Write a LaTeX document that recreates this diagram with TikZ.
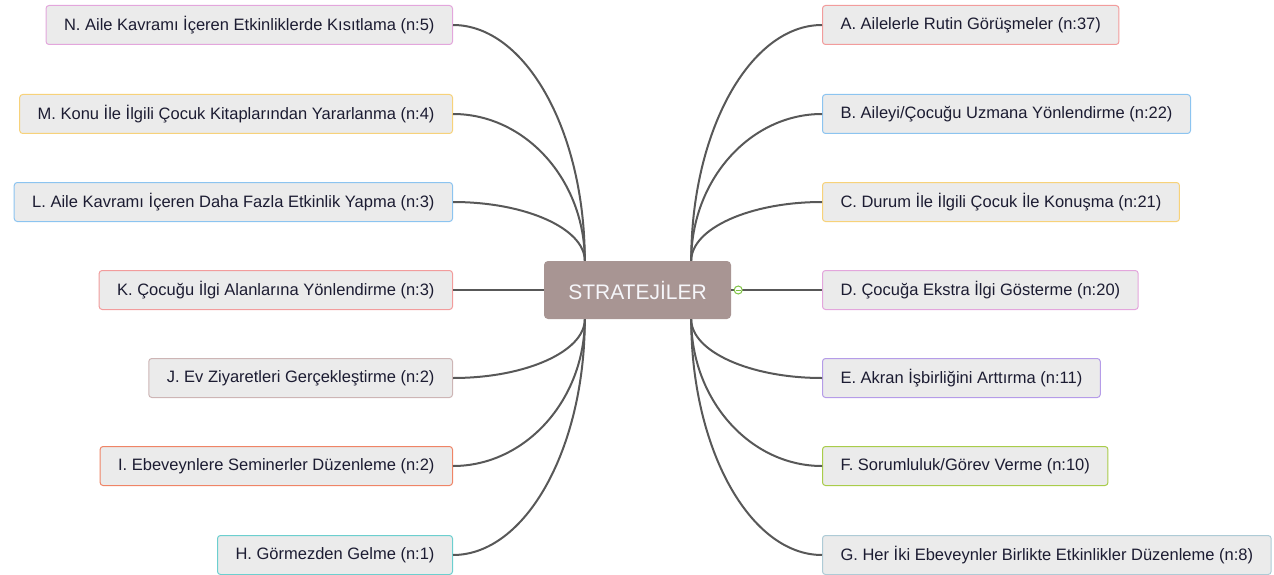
\documentclass[tikz,border=0pt]{standalone}
\usepackage{fontspec}
\setmainfont{Liberation Sans}
\usetikzlibrary{calc}

\definecolor{leaffill}{RGB}{235,235,235}
\definecolor{leaftext}{RGB}{28,28,50}
\definecolor{rootfill}{RGB}{168,149,147}
\definecolor{wiregray}{RGB}{88,88,88}
\definecolor{foldgreen}{RGB}{125,194,66}
\definecolor{cRed}{RGB}{242,156,156}
\definecolor{cBlue}{RGB}{140,196,240}
\definecolor{cYellow}{RGB}{247,210,122}
\definecolor{cPink}{RGB}{227,166,220}
\definecolor{cPurple}{RGB}{181,156,232}
\definecolor{cLime}{RGB}{169,204,74}
\definecolor{cSteel}{RGB}{174,203,214}
\definecolor{cTeal}{RGB}{108,207,207}
\definecolor{cCoral}{RGB}{239,132,102}
\definecolor{cTaupe}{RGB}{205,181,181}

\tikzset{
  leaf/.style={draw=#1, fill=leaffill, rounded corners=3pt, line width=1pt,
    minimum height=39pt, inner xsep=18pt, text=leaftext,
    font=\fontsize{16.5}{18}\selectfont},
  root/.style={fill=rootfill, rounded corners=4pt, minimum width=187pt,
    minimum height=58pt, text={rgb,255:red,246;green,246;blue,250},
    font=\fontsize{21}{23}\selectfont},
  wire/.style={draw=wiregray, line width=2pt},
  branch/.style={wire, to path={.. controls ($(\tikztostart)!0.55!(\tikztostart|-\tikztotarget)$) and ($(\tikztotarget)!0.55!(\tikztostart|-\tikztotarget)$) .. (\tikztotarget)}}
}

\begin{document}
\begin{tikzpicture}[x=1pt,y=1pt,yscale=-1,xscale=1]
\useasboundingbox (0,0) rectangle (1274,575);

% Root
\node [root] (strat) at (637.5,290) {STRATEJİLER};

% Right side
\node [leaf=cRed, anchor=west] (A) at (822,25) {A. Ailelerle Rutin Görüşmeler (n:37)};
\node [leaf=cBlue, anchor=west] (B) at (822,114) {B. Aileyi/Çocuğu Uzmana Yönlendirme (n:22)};
\node [leaf=cYellow, anchor=west] (C) at (822,202) {C. Durum İle İlgili Çocuk İle Konuşma (n:21)};
\node [leaf=cPink, anchor=west] (D) at (822,290) {D. Çocuğa Ekstra İlgi Gösterme (n:20)};
\node [leaf=cPurple, anchor=west] (E) at (822,378) {E. Akran İşbirliğini Arttırma (n:11)};
\node [leaf=cLime, anchor=west] (F) at (822,466) {F. Sorumluluk/Görev Verme (n:10)};
\node [leaf=cSteel, anchor=west] (G) at (822,555) {G. Her İki Ebeveynler Birlikte Etkinlikler Düzenleme (n:8)};

% Left side
\node [leaf=cPink, anchor=east] (N) at (453,25) {N. Aile Kavramı İçeren Etkinliklerde Kısıtlama (n:5)};
\node [leaf=cYellow, anchor=east] (M) at (453,114) {M. Konu İle İlgili Çocuk Kitaplarından Yararlanma (n:4)};
\node [leaf=cBlue, anchor=east] (L) at (453,202) {L. Aile Kavramı İçeren Daha Fazla Etkinlik Yapma (n:3)};
\node [leaf=cRed, anchor=east] (K) at (453,290) {K. Çocuğu İlgi Alanlarına Yönlendirme (n:3)};
\node [leaf=cTaupe, anchor=east] (J) at (453,378) {J. Ev Ziyaretleri Gerçekleştirme (n:2)};
\node [leaf=cCoral, anchor=east] (I) at (453,466) {I. Ebeveynlere Seminerler Düzenleme (n:2)};
\node [leaf=cTeal, anchor=east] (H) at (453,555) {H. Görmezden Gelme (n:1)};

% roots of the curves
\coordinate (lt) at ([xshift=41pt]strat.north west);
\coordinate (lb) at ([xshift=41pt]strat.south west);
\coordinate (rt) at ([xshift=-40pt]strat.north east);
\coordinate (rb) at ([xshift=-40pt]strat.south east);

% Curve Lines
\foreach \n in {N,M,L} \draw [branch] (lt) to (\n.east);
\foreach \n in {J,I,H} \draw [branch] (lb) to (\n.east);
\foreach \n in {A,B,C} \draw [branch] (rt) to (\n.west);
\foreach \n in {E,F,G} \draw [branch] (rb) to (\n.west);

% Straight Lines
\draw [wire] (strat.west) -- (K.east);
\draw [wire] (strat.east) -- (D.west);

% fold marker
\node [circle, draw=foldgreen, fill=white, line width=1pt, minimum size=8pt, inner sep=0pt] (fold) at ([xshift=7pt]strat.east) {};
\draw [foldgreen, line width=1pt] ([xshift=1.8pt]fold.west) -- ([xshift=-1.8pt]fold.east);

\end{tikzpicture}
\end{document}
